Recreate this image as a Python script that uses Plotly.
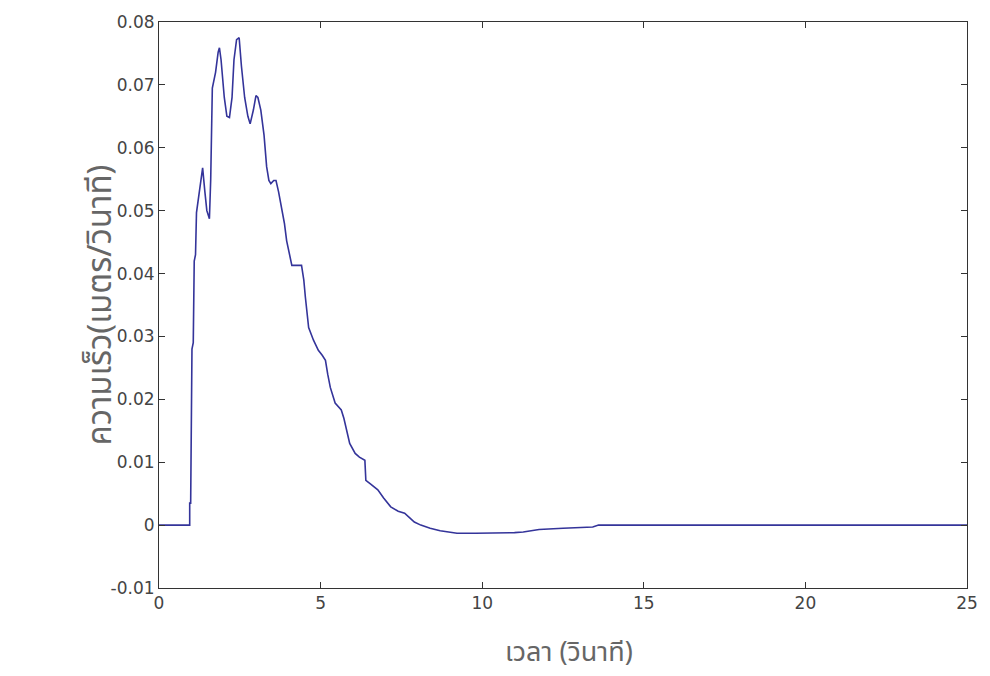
import plotly.graph_objects as go

# time (s) and velocity (m/s)
time_s = [0, 0.95, 0.95, 0.98, 1.02, 1.06, 1.09, 1.13, 1.16, 1.22, 1.30, 1.35, 1.42, 1.48, 1.56,
          1.60, 1.65, 1.75, 1.83, 1.87, 1.92, 2.02, 2.10, 2.18, 2.26, 2.32, 2.40, 2.48, 2.55,
          2.65, 2.75, 2.82, 2.92, 3.00, 3.06, 3.15, 3.25, 3.33, 3.40, 3.46, 3.55, 3.62, 3.70,
          3.80, 3.88, 3.95, 4.05, 4.11, 4.41, 4.48, 4.53, 4.58, 4.63, 4.78, 4.93, 5.05, 5.15,
          5.22, 5.30, 5.45, 5.55, 5.64, 5.72, 5.79, 5.90, 6.07, 6.20, 6.37, 6.40, 6.55, 6.77,
          6.95, 7.17, 7.40, 7.60, 7.75, 7.90, 8.10, 8.39, 8.70, 9.01, 9.22, 9.80, 10.45, 11.00,
          11.27, 11.76, 12.50, 13.42, 13.60, 25]
velocity = [0, 0, 0.0035, 0.0035, 0.028, 0.029, 0.042, 0.043, 0.0497, 0.052, 0.055, 0.0568, 0.053,
            0.050, 0.0487, 0.055, 0.0695, 0.072, 0.0752, 0.0759, 0.074, 0.068, 0.065, 0.0648, 0.068,
            0.074, 0.0772, 0.0775, 0.073, 0.068, 0.065, 0.0638, 0.066, 0.0683, 0.068, 0.066, 0.062,
            0.057, 0.0548, 0.0543, 0.0548, 0.0548, 0.053, 0.050, 0.048, 0.0452, 0.043, 0.0413,
            0.0413, 0.039, 0.0362, 0.034, 0.0314, 0.0294, 0.0278, 0.027, 0.0262, 0.024, 0.0219,
            0.0194, 0.0188, 0.0183, 0.017, 0.0156, 0.013, 0.0114, 0.0108, 0.0103, 0.0071, 0.0065,
            0.0056, 0.0043, 0.0029, 0.0022, 0.0019, 0.0012, 0.0005, 0.0, -0.0005, -0.0009, -0.0011,
            -0.0013, -0.0013, -0.0013, -0.0012, -0.0011, -0.0007, -0.0005, -0.0003, 0, 0]

x_ticks = [0, 5, 10, 15, 20, 25]
y_ticks = [-0.01, 0, 0.01, 0.02, 0.03, 0.04, 0.05, 0.06, 0.07, 0.08]
y_tick_text = ["-0.01", "0", "0.01", "0.02", "0.03", "0.04", "0.05", "0.06", "0.07", "0.08"]

x_title = "เวลา (วินาที)"
y_title = "ความเร็ว(เมตร/วินาที)"

fig = go.Figure()
fig.add_trace(go.Scatter(x=time_s, y=velocity, mode="lines",
                         line=dict(color="#34349a", width=1.6), showlegend=False))

tick_font = dict(family="DejaVu Sans, sans-serif", size=17, color="#444444")

fig.update_xaxes(range=[0, 25], tickvals=x_ticks, ticks="inside", ticklen=6, tickcolor="#333",
                 showline=True, linecolor="#333", linewidth=1, mirror="ticks", showgrid=False,
                 zeroline=False, tickfont=tick_font)
fig.update_yaxes(range=[-0.01, 0.08], tickvals=y_ticks, ticktext=y_tick_text, ticks="inside",
                 ticklen=6, tickcolor="#333", showline=True, linecolor="#333", linewidth=1,
                 mirror="ticks", showgrid=False, zeroline=False, tickfont=tick_font)

fig.add_annotation(text=x_title, xref="paper", yref="paper", x=0.507, y=-0.114,
                   xanchor="center", yanchor="middle", showarrow=False,
                   font=dict(family="Noto Sans Thai, Tahoma, sans-serif", size=27, color="#666666"))
fig.add_annotation(text=y_title, xref="paper", yref="paper", x=-0.0723, y=0.5,
                   xanchor="center", yanchor="middle", showarrow=False, textangle=-90,
                   font=dict(family="Noto Sans Thai, Tahoma, sans-serif", size=33, color="#666666"))

fig.update_layout(width=990, height=676, margin=dict(l=159, r=15, t=21, b=88),
                  plot_bgcolor="white", paper_bgcolor="white")

fig.write_html("out.html")
